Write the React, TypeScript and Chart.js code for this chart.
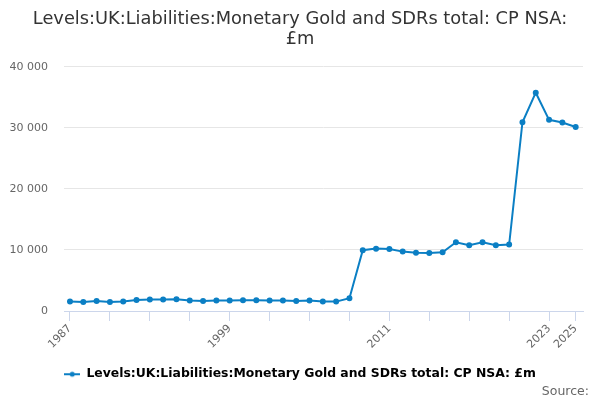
import { useEffect, useRef } from "react";
import { Chart, registerables } from "chart.js";
Chart.register(...registerables);

const years = [
  1987, 1988, 1989, 1990, 1991, 1992, 1993, 1994, 1995, 1996,
  1997, 1998, 1999, 2000, 2001, 2002, 2003, 2004, 2005, 2006,
  2007, 2008, 2009, 2010, 2011, 2012, 2013, 2014, 2015, 2016,
  2017, 2018, 2019, 2020, 2021, 2022, 2023, 2024, 2025,
];
const values = [
  1540, 1490, 1650, 1490, 1540, 1820, 1880, 1880, 1930, 1710,
  1650, 1710, 1710, 1770, 1770, 1710, 1710, 1650, 1710, 1540,
  1540, 2090, 9950, 10220, 10160, 9730, 9560, 9500, 9620, 11260,
  10770, 11260, 10770, 10880, 30930, 35770, 31320, 30880, 30160,
];
const tickYears = [1987, 1990, 1993, 1996, 1999, 2002, 2005, 2008, 2011, 2014, 2017, 2020, 2023, 2025];
const labelYears = [1987, 1999, 2011, 2023, 2025];
const yTicks = [0, 10000, 20000, 30000, 40000];
const seriesName = "Levels:UK:Liabilities:Monetary Gold and SDRs total: CP NSA: £m";
const titleLines = ["Levels:UK:Liabilities:Monetary Gold and SDRs total: CP NSA:", "£m"];

const LINE = "#0b7fc4";
const FONT = "'DejaVu Sans', sans-serif";

function legendIcon() {
  const c = document.createElement("canvas");
  c.width = 16;
  c.height = 8;
  const g = c.getContext("2d")!;
  g.strokeStyle = LINE;
  g.lineWidth = 2;
  g.beginPath();
  g.moveTo(0, 4);
  g.lineTo(16, 4);
  g.stroke();
  g.fillStyle = LINE;
  g.beginPath();
  g.arc(8, 4, 2.5, 0, Math.PI * 2);
  g.fill();
  return c;
}

export default function App() {
  const ref = useRef<HTMLCanvasElement>(null);

  useEffect(() => {
    if (!ref.current) return;
    const icon = legendIcon();
    const chart = new Chart(ref.current, {
      type: "line",
      data: {
        datasets: [{
          label: seriesName,
          data: years.map((y, i) => ({ x: y, y: values[i] })),
          borderColor: LINE,
          backgroundColor: LINE,
          borderWidth: 2,
          pointRadius: 2,
          pointHoverRadius: 3,
          tension: 0,
        }],
      },
      options: {
        animation: false,
        responsive: false,
        layout: { padding: { left: 0, right: 0, top: 0, bottom: 9.6 } },
        plugins: {
          title: {
            display: true,
            text: titleLines,
            color: "#333333",
            font: { family: FONT, size: 17.8, weight: "normal", lineHeight: 1.12 },
            padding: { top: 9, bottom: 18 },
          },
          legend: {
            position: "bottom",
            labels: {
              usePointStyle: true,
              pointStyle: icon,
              pointStyleWidth: 16,
              color: "#333333",
              font: { family: FONT, size: 12.4, weight: "bold" },
              padding: 8,
              generateLabels: () => [{
                text: seriesName,
                pointStyle: icon,
                fillStyle: LINE,
                strokeStyle: LINE,
                lineWidth: 0,
                hidden: false,
                datasetIndex: 0,
              }],
            },
          },
          tooltip: { enabled: false },
        },
        scales: {
          x: {
            type: "linear",
            min: 1986.55,
            max: 2025.55,
            afterBuildTicks: (s) => { s.ticks = tickYears.map((v) => ({ value: v })); },
            afterFit: (s) => { s.height = 49; },
            ticks: {
              autoSkip: false,
              minRotation: 45,
              maxRotation: 45,
              color: "#666666",
              font: { family: FONT, size: 11 },
              padding: 1,
              callback: (v) => (labelYears.includes(Number(v)) ? String(v) : ""),
            },
            grid: { drawOnChartArea: false, drawTicks: true, tickLength: 10, color: "#ccd6eb" },
            border: { color: "#ccd6eb", width: 1 },
          },
          y: {
            min: 0,
            max: 40000,
            afterBuildTicks: (s) => { s.ticks = yTicks.map((v) => ({ value: v })); },
            afterFit: (s) => { s.width = 64; },
            ticks: {
              color: "#666666",
              font: { family: FONT, size: 11 },
              padding: 16,
              callback: (v) => String(v).replace(/\B(?=(\d{3})+(?!\d))/g, " "),
            },
            grid: { color: "#e6e6e6", drawTicks: false },
            border: { display: false },
          },
          // empty right-hand strip so the plot ends at 583 while title and legend stay centred
          gap: {
            position: "right",
            afterFit: (s) => { s.width = 17; },
            ticks: { display: false },
            grid: { display: false },
            border: { display: false },
          },
        },
      },
    });
    return () => chart.destroy();
  }, []);

  return (
    <div style={{ position: "fixed", left: 0, top: 0, width: 600, height: 400, background: "#fff" }}>
      <canvas ref={ref} width={600} height={400} style={{ width: 600, height: 400 }} />
      <span
        style={{
          position: "absolute", right: 11, top: 383, fontFamily: FONT, fontSize: 12.5,
          color: "#666666", lineHeight: "16px",
        }}
      >
        Source:
      </span>
    </div>
  );
}
